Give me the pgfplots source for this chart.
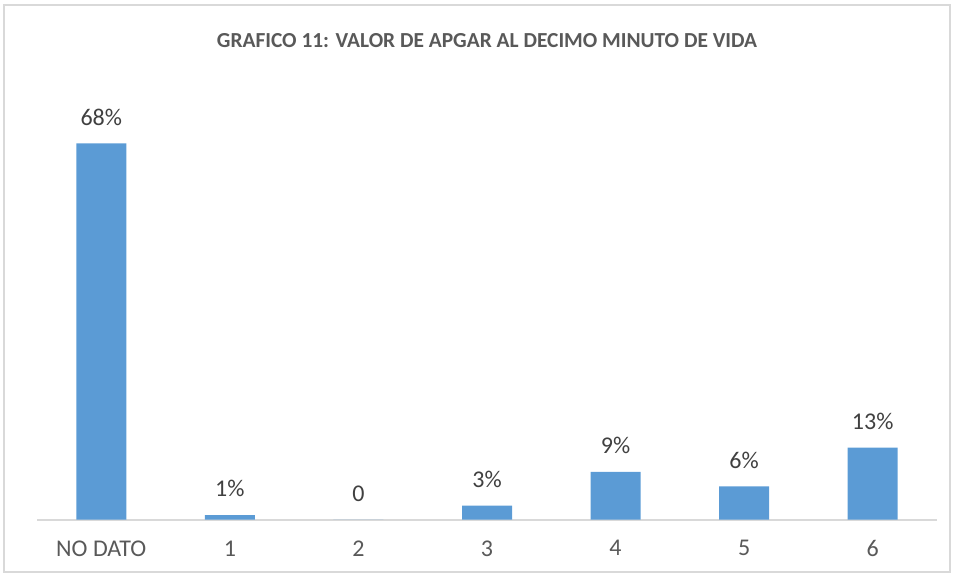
\documentclass[border=0pt]{standalone}
\usepackage{fontspec}
\setmainfont{Carlito}
\usepackage{pgfplots}
\pgfplotsset{compat=1.18}
\definecolor{barblue}{HTML}{5B9BD5}
\definecolor{txtgray}{HTML}{595959}
\definecolor{lblgray}{HTML}{404040}
\definecolor{axgray}{HTML}{D9D9D9}
\begin{document}
\begin{tikzpicture}
\useasboundingbox (0,0) rectangle (479.5pt,289.5pt);
\draw[axgray, line width=0.8pt] (2pt,3.5pt) rectangle (475pt,287pt);
\node[font=\fontsize{10.7}{12}\selectfont\bfseries, text=txtgray] at (243.5pt,269pt)
  {GRAFICO 11: VALOR DE APGAR AL DECIMO MINUTO DE VIDA};
\begin{axis}[
    at={(18.5pt,29.75pt)}, anchor=south west,
    scale only axis, width=450pt, height=229.5pt,
    xmin=-0.5, xmax=6.5, ymin=0, ymax=83,
    axis line style={draw=none}, axis x line*=bottom, axis y line=none,
    ytick=\empty,
    xtick={0,1,2,3,4,5,6},
    xticklabels={NO DATO,1,2,3,4,5,6},
    major tick length=0pt,
    xticklabel style={font=\fontsize{12}{14}\selectfont, text=txtgray, yshift=-7pt},
    /pgf/number format/assume math mode=true,
    ybar, bar width=25pt,
    nodes near coords, point meta=explicit symbolic,
    every node near coord/.append style={font=\fontsize{12}{14}\selectfont, text=lblgray, yshift=5.5pt},
    clip=false,
]
\draw[axgray, line width=1pt] (axis cs:-0.5,0) -- (axis cs:6.5,0);
\addplot[fill=barblue, draw=none] coordinates {
(0,68) [68\%]
(1,0.8) [1\%]
(2,0) [0]
(3,2.5) [3\%]
(4,8.6) [9\%]
(5,6) [6\%]
(6,13) [13\%]
};
\end{axis}
\end{tikzpicture}
\end{document}
